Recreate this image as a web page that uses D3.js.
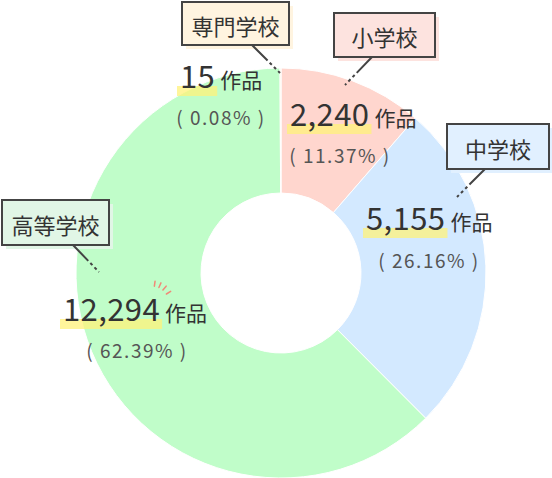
<!DOCTYPE html>
<html>
<head>
<meta charset="utf-8">
<script src="https://cdn.jsdelivr.net/npm/d3@7"></script>
<style>
  body { margin: 0; background: #fff; }
  svg { display: block; font-family: "Noto Sans CJK JP", "Noto Sans", sans-serif; }
</style>
</head>
<body>
<div id="chart"></div>
<script>
// data
const categories = ['小学校', '中学校', '高等学校', '専門学校'];
const counts = [2240, 5155, 12294, 15];
const percentLabels = ['11.37%', '26.16%', '62.39%', '0.08%'];

const sliceColors = ['#ffd6ce', '#d3e9ff', '#c0fdc9', '#fff0d2'];
const boxFills = ['#fde3df', '#e1f0ff', '#e1f6e6', '#fff4e0'];

// label layout (box, pointer, value text) per category
const labelPos = [
  { box: [334, 13, 101, 44], ptr: [[372, 57], [345, 85]], num: [290, 126], pct: [340, 163] },
  { box: [447, 124, 102, 45], ptr: [[485, 169], [457, 197]], num: [366, 230], pct: [429, 268] },
  { box: [2, 200, 107, 45], ptr: [[73, 245], [99, 272]], num: [63, 321], pct: [137, 358] },
  { box: [182, 2, 107, 43], ptr: [[252, 45], [280, 73]], num: [180, 88], pct: [221, 125] }
];

const width = 552, height = 478;
const cx = 281, cy = 273, outerR = 205, innerR = 80;

const svg = d3.select('#chart').append('svg')
  .attr('width', width)
  .attr('height', height);

const pie = d3.pie().sort(null).value(d => d)
  .startAngle(0).endAngle(2 * Math.PI);
const arc = d3.arc().innerRadius(innerR).outerRadius(outerR);

svg.append('g')
  .attr('transform', `translate(${cx},${cy})`)
  .selectAll('path')
  .data(pie(counts))
  .enter().append('path')
    .attr('d', arc)
    .attr('fill', (d, i) => sliceColors[i])
    .attr('stroke', '#fff')
    .attr('stroke-width', 1);

// value labels
const fmt = d3.format(',');
const labels = svg.append('g');

counts.forEach((v, i) => {
  const p = labelPos[i];
  const g = labels.append('g');
  const hl = g.append('rect');
  const num = g.append('text')
    .attr('x', p.num[0])
    .attr('y', p.num[1])
    .attr('font-size', 31)
    .attr('letter-spacing', 0.4)
    .attr('fill', '#333')
    .text(fmt(v));
  const w = num.node().getComputedTextLength();
  hl.attr('x', p.num[0] - 3)
    .attr('y', p.num[1] - 2)
    .attr('width', w + 5)
    .attr('height', 10)
    .attr('fill', '#fff27a')
    .attr('opacity', 0.75);
  g.append('text')
    .attr('x', p.num[0] + w + 5)
    .attr('y', p.num[1])
    .attr('font-size', 21)
    .attr('fill', '#333')
    .text('作品');
  g.append('text')
    .attr('x', p.pct[0])
    .attr('y', p.pct[1])
    .attr('text-anchor', 'middle')
    .attr('font-size', 19)
    .attr('letter-spacing', 1.5)
    .attr('fill', '#555')
    .attr('xml:space', 'preserve')
    .text('( ' + percentLabels[i] + ' )');
});

// sparkle next to the biggest value
const sparkle = svg.append('g')
  .attr('transform', 'translate(152,303)')
  .attr('stroke', '#f08a78')
  .attr('stroke-width', 1.5)
  .attr('stroke-linecap', 'round');
[-82, -66, -50, -32].forEach(a => {
  const r = a * Math.PI / 180;
  sparkle.append('line')
    .attr('x1', 17 * Math.cos(r)).attr('y1', 17 * Math.sin(r))
    .attr('x2', 22 * Math.cos(r)).attr('y2', 22 * Math.sin(r));
});

// category boxes with pointers
categories.forEach((c, i) => {
  const p = labelPos[i];
  const [bx, by, bw, bh] = p.box;
  const g = svg.append('g');
  g.append('rect')
    .attr('x', bx + 4).attr('y', by + 4)
    .attr('width', bw).attr('height', bh)
    .attr('fill', boxFills[i]);
  g.append('rect')
    .attr('x', bx).attr('y', by)
    .attr('width', bw).attr('height', bh)
    .attr('fill', boxFills[i])
    .attr('stroke', '#444')
    .attr('stroke-width', 2);
  g.append('text')
    .attr('x', bx + bw / 2)
    .attr('y', by + bh / 2 + 1)
    .attr('text-anchor', 'middle')
    .attr('dominant-baseline', 'central')
    .attr('font-size', 22)
    .attr('fill', '#333')
    .text(c);
  g.append('line')
    .attr('x1', p.ptr[0][0]).attr('y1', p.ptr[0][1])
    .attr('x2', p.ptr[1][0]).attr('y2', p.ptr[1][1])
    .attr('stroke', '#444')
    .attr('stroke-width', 2)
    .attr('stroke-dasharray', '22,3,3,3,3,3,3,3');
});
</script>
</body>
</html>
